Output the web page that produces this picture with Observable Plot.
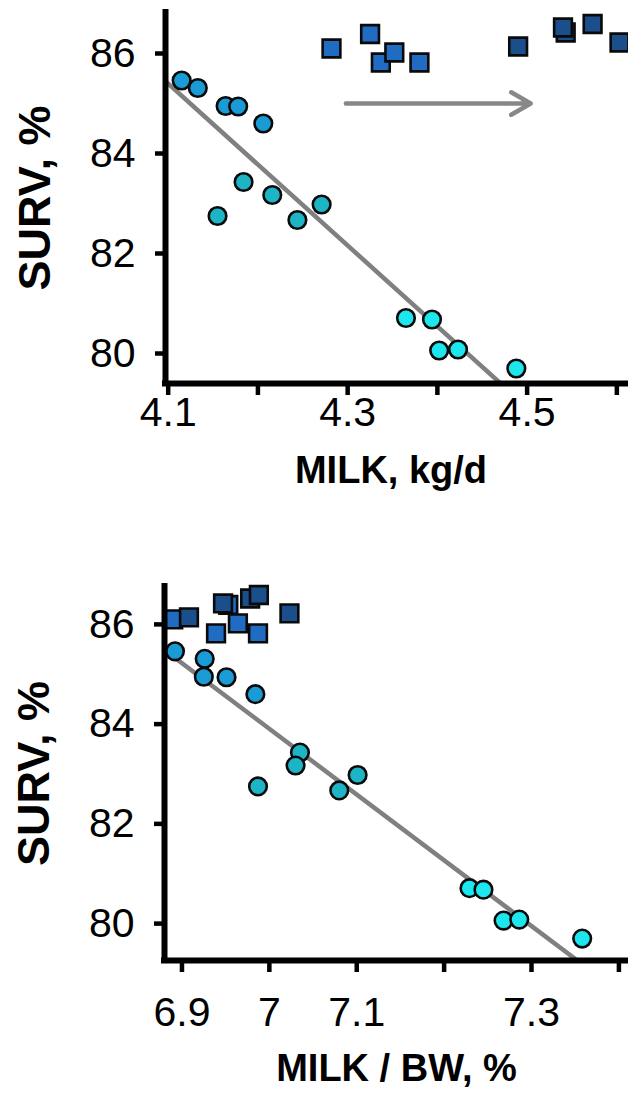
<!DOCTYPE html>
<html>
<head>
<meta charset="utf-8">
<script src="https://cdn.jsdelivr.net/npm/d3@7"></script>
<script src="https://cdn.jsdelivr.net/npm/@observablehq/plot@0.6"></script>
<style>
  html, body { margin: 0; padding: 0; background: #fff; }
  #chart { width: 628px; height: 1094px; position: relative; overflow: hidden; }
  #chart svg { display: block; }
</style>
</head>
<body>
<div id="chart"></div>
<script>
// ---- Data ----
// Circles (same animals/groups in both panels), SURV in %
const survCircles   = [85.46, 85.31, 84.95, 84.94, 84.60, 83.43, 82.75, 83.17, 82.67, 82.98, 80.71, 80.68, 80.06, 80.08, 79.70];
const milkCircles   = [4.115, 4.133, 4.164, 4.178, 4.206, 4.184, 4.155, 4.216, 4.244, 4.271, 4.365, 4.394, 4.402, 4.423, 4.488];
const milkBwCircles = [6.892, 6.926, 6.925, 6.951, 6.984, 7.035, 6.987, 7.030, 7.080, 7.101, 7.229, 7.245, 7.268, 7.286, 7.358];
const circleGroup   = ["high","high","high","high","high","mid","mid","mid","mid","mid","low","low","low","low","low"];

// Squares: "before" (lighter blue) and "after" (darker blue)
const survSqBefore   = [86.10, 86.39, 85.82, 86.02, 85.82];
const milkSqBefore   = [4.282, 4.325, 4.337, 4.352, 4.380];
const milkBwSqBefore = [6.890, 6.953, 6.939, 6.964, 6.987];
const survSqAfter    = [86.14, 86.42, 86.52, 86.59, 86.22];
const milkSqAfter    = [4.490, 4.543, 4.540, 4.573, 4.603];
const milkBwSqAfter  = [6.908, 6.947, 6.978, 6.988, 7.023];

// Arrow (top panel)
const arrowFrom = [4.298];
const arrowTo   = [4.504];
const arrowSurv = [85.0];

// Ticks and labels
const yTicks = [80, 82, 84, 86];
const xTicksTop = [4.1, 4.2, 4.3, 4.4, 4.5, 4.6];
const xTickLabelsTop = ["4.1", "", "4.3", "", "4.5", ""];
const xTicksBottom = [6.9, 7.0, 7.1, 7.2, 7.3, 7.4];
const xTickLabelsBottom = ["6.9", "7", "7.1", "", "7.3", ""];

const yTitle = "SURV, %";
const xTitleTop = "MILK, kg/d";
const xTitleBottom = "MILK / BW, %";

// Colours
const groupDomain = ["high", "mid", "low", "before", "after"];
const groupColors = ["#1a9bd5", "#1db5c6", "#1de6ef", "#1f6cc2", "#1a4f8c"];

// ---- Build tables ----
const circles = survCircles.map((s, i) => ({surv: s, milk: milkCircles[i], milkbw: milkBwCircles[i], g: circleGroup[i]}));
const squares = [
  ...survSqBefore.map((s, i) => ({surv: s, milk: milkSqBefore[i], milkbw: milkBwSqBefore[i], g: "before"})),
  ...survSqAfter.map((s, i) => ({surv: s, milk: milkSqAfter[i], milkbw: milkBwSqAfter[i], g: "after"}))
];
const arrows = arrowFrom.map((a, i) => ({x1: a, x2: arrowTo[i], y: arrowSurv[i]}));

function fit(xs, ys) {
  const mx = d3.mean(xs), my = d3.mean(ys);
  let sxy = 0, sxx = 0;
  xs.forEach((x, i) => { sxy += (x - mx) * (ys[i] - my); sxx += (x - mx) ** 2; });
  const b = sxy / sxx;
  return x => my + b * (x - mx);
}

const FONT = "'Liberation Sans', Arial, Helvetica, sans-serif";

function panel({xKey, xDomain, yDomain, xTicks, xLabels, height, marginTop, marginBottom, marginLeft, tickPadX, xTitle, xTitleDy, xTitleDx, withArrow}) {
  const f = fit(circles.map(d => d[xKey]), circles.map(d => d.surv));
  const regLine = xDomain.map(x => ({x, y: f(x)}));
  const marks = [
    Plot.line(regLine, {x: "x", y: "y", stroke: "#808080", strokeWidth: 4.5, clip: true}),
  ];
  if (withArrow) {
    marks.push(Plot.arrow(arrows, {x1: "x1", x2: "x2", y1: "y", y2: "y", stroke: "#888888", strokeWidth: 4.5, headLength: 7.5, headAngle: 60}));
  }
  marks.push(
    Plot.dot(squares, {x: xKey, y: "surv", symbol: "square", r: 10, fill: "g", stroke: "#0a0a0a", strokeWidth: 2.6}),
    Plot.dot(circles, {x: xKey, y: "surv", r: 8.8, fill: "g", stroke: "#0a0a0a", strokeWidth: 2.6}),
    Plot.ruleX([xDomain[0]], {stroke: "black", strokeWidth: 6, strokeLinecap: "square"}),
    Plot.ruleY([yDomain[0]], {stroke: "black", strokeWidth: 6, strokeLinecap: "square"}),
    Plot.axisY({ticks: yTicks, tickSize: 10, tickPadding: 20, strokeWidth: 4.5, fontSize: 41, label: null, tickFormat: d => String(d)}),
    Plot.axisX({ticks: xTicks, tickSize: 12, tickPadding: tickPadX, strokeWidth: 4.5, fontSize: 41, label: null,
      tickFormat: d => { const k = xTicks.findIndex(t => Math.abs(t - d) < 1e-9); return k >= 0 ? xLabels[k] : ""; }}),
    Plot.text([yTitle], {text: d => d, frameAnchor: "left", dx: -130, rotate: -90, fontSize: 45, fontWeight: "bold", lineAnchor: "middle", textAnchor: "middle", fill: "black"}),
    Plot.text([xTitle], {text: d => d, frameAnchor: "bottom", dy: xTitleDy, dx: xTitleDx, fontSize: 38, fontWeight: "bold", lineAnchor: "middle", textAnchor: "middle", fill: "black"})
  );
  return Plot.plot({
    width: 628,
    height,
    marginLeft,
    marginRight: 0,
    marginTop,
    marginBottom,
    style: {fontFamily: FONT, fontSize: "41px", color: "black", background: "white", overflow: "visible"},
    x: {domain: xDomain},
    y: {domain: yDomain},
    color: {type: "ordinal", domain: groupDomain, range: groupColors},
    marks
  });
}

const topPanel = panel({
  xKey: "milk", xDomain: [4.097, 4.613], yDomain: [79.4, 86.82],
  xTicks: xTicksTop, xLabels: xTickLabelsTop,
  height: 540, marginTop: 12, marginBottom: 157, marginLeft: 165,
  tickPadX: 1, xTitle: xTitleTop, xTitleDy: 87, xTitleDx: -6, withArrow: true
});
const bottomPanel = panel({
  xKey: "milkbw", xDomain: [6.88, 7.411], yDomain: [79.26, 86.76],
  xTicks: xTicksBottom, xLabels: xTickLabelsBottom,
  height: 554, marginTop: 46, marginBottom: 134, marginLeft: 164,
  tickPadX: 24, xTitle: xTitleBottom, xTitleDy: 108, xTitleDx: 0, withArrow: false
});
document.getElementById("chart").append(topPanel, bottomPanel);
</script>
</body>
</html>
